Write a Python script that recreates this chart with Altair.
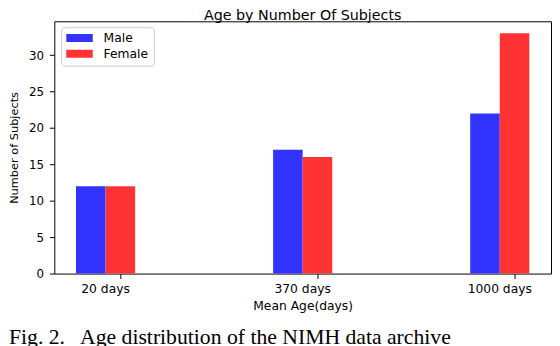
import altair as alt
import pandas as pd

# ---- data ----
ages = ["20 days", "370 days", "1000 days"]
sexes = ["Male", "Female"]
male_counts = [12, 17, 22]
female_counts = [12, 16, 33]
colors = ["#3333ff", "#ff3333"]
y_ticks = [0, 5, 10, 15, 20, 25, 30]
y_max = 34.65

title_text = "Age by Number Of Subjects"
x_title = "Mean Age(days)"
y_title = "Number of Subjects"
caption_text = "Fig. 2.\u00a0\u00a0 Age distribution of the NIMH data archive"

rows = []
for a, m, f in zip(ages, male_counts, female_counts):
    rows.append({"age": a, "sex": "Male", "count": m})
    rows.append({"age": a, "sex": "Female", "count": f})
df = pd.DataFrame(rows)

font = "DejaVu Sans"

bars = alt.Chart(df).mark_bar(strokeWidth=0).encode(
    x=alt.X(
        "age:N",
        sort=ages,
        scale=alt.Scale(paddingInner=0.7, paddingOuter=0.11),
        axis=alt.Axis(
            title=x_title,
            labelAngle=0,
            bandPosition=0.75,
            tickSize=5,
            labelPadding=4,
            labelFontSize=12.5,
            titleFontSize=12.5,
            titlePadding=5,
        ),
    ),
    xOffset=alt.XOffset(
        "sex:N", sort=sexes, scale=alt.Scale(paddingInner=0, paddingOuter=0)
    ),
    y=alt.Y(
        "count:Q",
        scale=alt.Scale(domain=[0, y_max], nice=False, zero=True),
        axis=alt.Axis(
            title=y_title,
            values=y_ticks,
            tickSize=5,
            labelPadding=6,
            labelFontSize=12,
            titleFontSize=11.5,
            titlePadding=9,
        ),
    ),
    color=alt.Color(
        "sex:N",
        sort=sexes,
        scale=alt.Scale(domain=sexes, range=colors),
        legend=alt.Legend(
            title=None,
            orient="none",
            legendX=7,
            legendY=6,
            direction="vertical",
            padding=5,
            strokeColor="#cccccc",
            fillColor="white",
            cornerRadius=3,
            symbolType="M-1,-0.3L1,-0.3L1,0.3L-1,0.3Z",
            symbolSize=729,
            symbolStrokeWidth=0,
            symbolOpacity=1,
            clipHeight=12,
            rowPadding=3,
            labelOffset=11,
            labelFontSize=12.5,
            labelFont=font,
            labelColor="#000",
        ),
    ),
)

title = alt.Chart(pd.DataFrame({"t": [title_text]})).mark_text(
    font=font,
    fontSize=14.5,
    align="center",
    baseline="alphabetic",
    color="#000",
).encode(
    text="t:N",
    x=alt.value(252),
    y=alt.value(-1.5),
)

caption = alt.Chart(pd.DataFrame({"t": [caption_text]})).mark_text(
    font="Liberation Serif",
    fontSize=22,
    align="left",
    baseline="alphabetic",
    color="#000",
).encode(
    text="t:N",
    x=alt.value(-46),
    y=alt.value(327),
)

chart = (
    alt.layer(bars, title, caption)
    .properties(
        width=504,
        height=256,
        padding={"left": 47, "top": 11, "right": 1, "bottom": 71},
        autosize=alt.AutoSizeParams(type="none"),
    )
    .configure_view(stroke="#000", strokeWidth=1)
    .configure_axis(
        labelFont=font,
        titleFont=font,
        labelColor="#000",
        titleColor="#000",
        tickColor="#000",
        titleFontWeight="normal",
        grid=False,
        domain=False,
    )
)

chart.save("out.html", embed_options={"renderer": "svg", "actions": False})
